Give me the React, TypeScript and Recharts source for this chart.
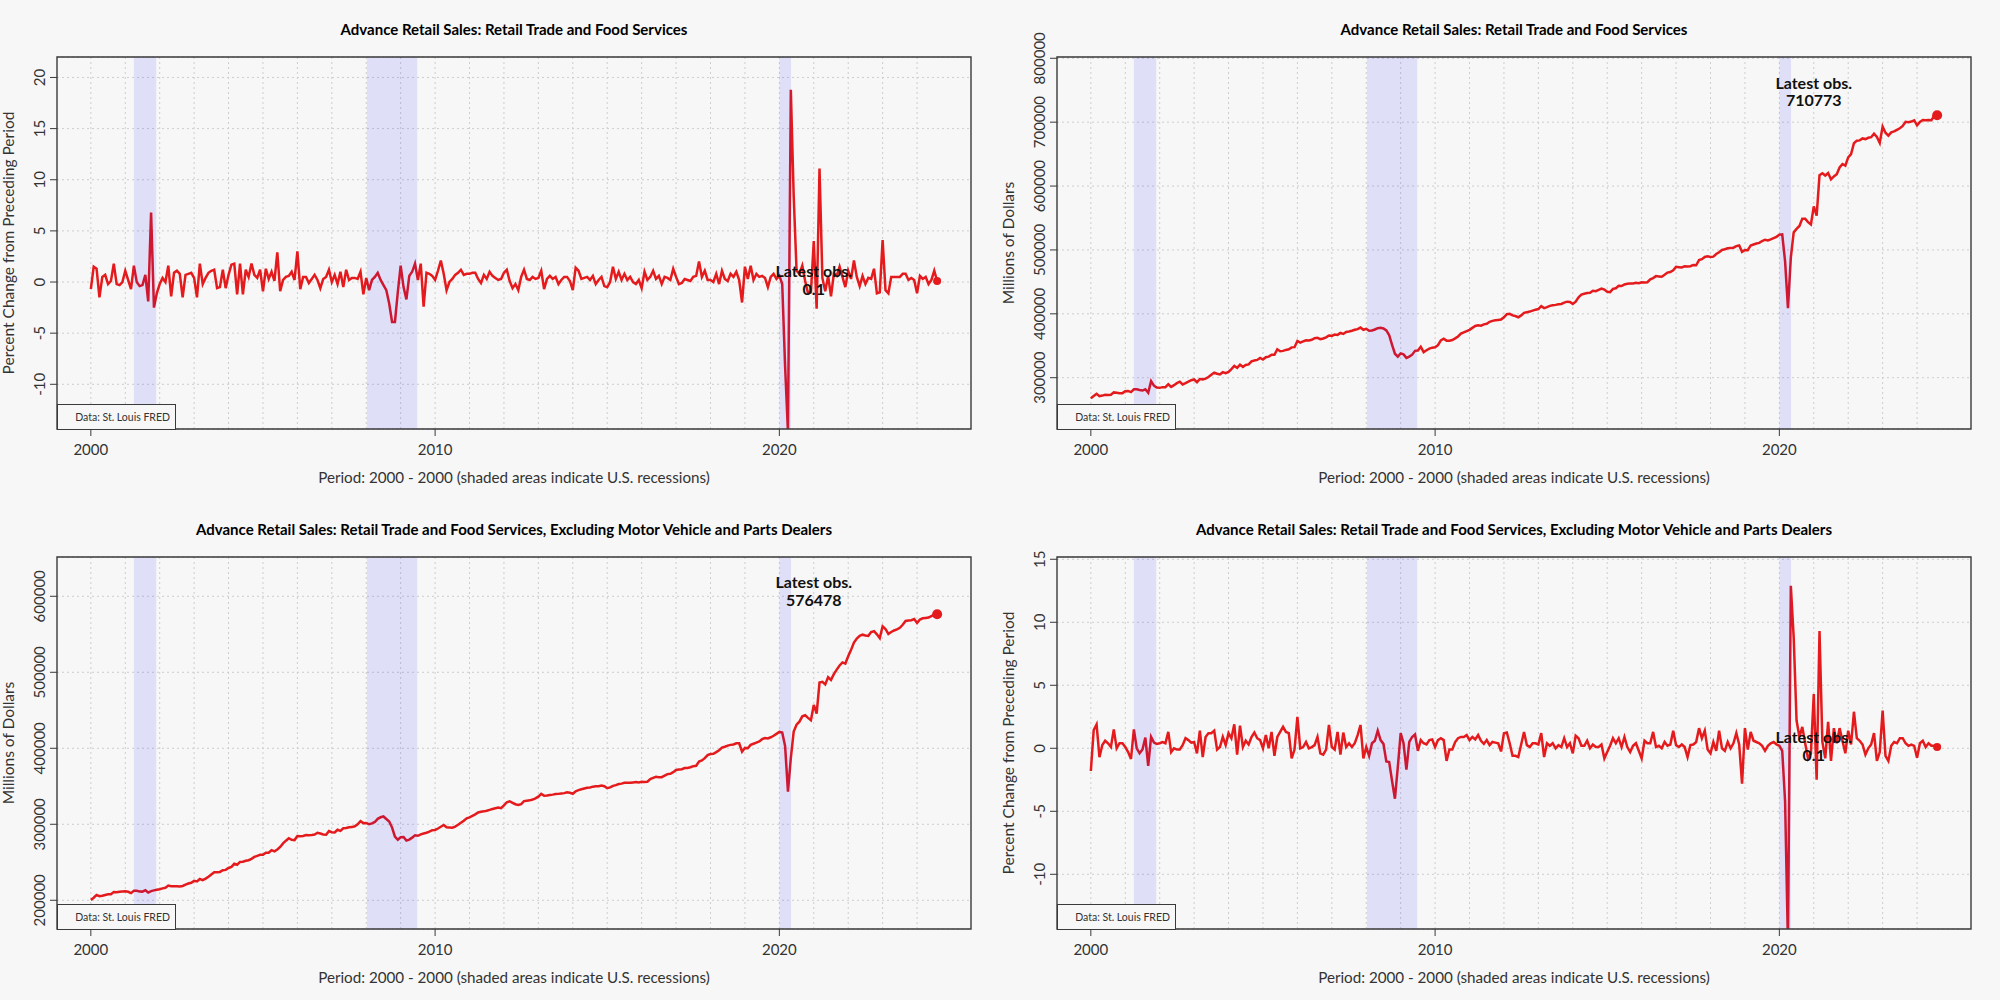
import React from 'react';
import {
  LineChart,
  Line,
  XAxis,
  YAxis,
  CartesianGrid,
  ReferenceArea,
  ReferenceLine,
  ReferenceDot,
} from 'recharts';

// ---------------- DATA (monthly, Jan 2000 - Aug 2024) ----------------
const START_YEAR = 2000;

// Advance Retail Sales: Retail Trade and Food Services, % change from preceding period
const totalPct = [
  -0.7, 1.5, 1.3, -1.5, 0.5, 0.7, -0.2, 0.1, 1.8, -0.2, -0.3, 0.0,
  1.1, 0.2, -0.7, 1.6, 0.0, -0.4, -0.3, 0.7, -1.9, 6.8, -2.5, -1.1,
  -0.2, 0.4, 0.0, 1.6, -1.4, 0.9, 1.1, 0.8, -1.5, 0.7, 0.8, 0.9,
  0.4, -1.5, 1.8, -0.2, 0.4, 0.9, 1.1, 1.2, -0.6, -0.5, 1.2, -0.6,
  0.7, 1.7, 1.8, -1.2, 1.8, -1.2, 1.2, 0.5, 1.8, 0.7, 0.4, 1.2,
  -0.9, 1.3, 0.3, 1.0, 0.1, 2.9, -0.9, 0.2, 0.5, 0.6, 1.0, 0.2,
  3.0, -0.7, 0.5, 0.5, -0.1, 0.3, 0.7, 0.2, -0.6, 0.3, 0.5, 1.2,
  0.0, 0.7, -0.2, 1.0, -0.5, 1.2, 0.2, 0.4, 0.4, 0.3, 1.0, -1.2,
  0.4, -0.8, 0.2, 0.5, 0.9, 0.2, -0.3, -0.8, -2.1, -3.9, -3.9, -1.0,
  1.6, -0.5, -1.7, 0.6, 1.0, 1.8, 0.2, 1.8, -2.4, 0.9, 0.8, 0.6,
  0.2, 1.1, 2.1, 0.8, -0.8, 0.0, 0.3, 0.7, 0.9, 1.2, 0.7, 0.8,
  0.8, 0.9, 0.9, 0.3, -0.1, 0.7, 0.3, 1.0, 0.6, 0.4, 0.2, 0.3,
  0.9, 1.2, 0.1, -0.6, -0.2, -0.8, 0.5, 1.2, 0.3, 0.2, 0.5, 0.3,
  0.4, 1.1, -0.7, 0.3, 0.6, 0.3, 0.5, -0.2, 0.2, 0.5, 0.5, 0.1,
  -0.8, 1.4, 1.1, 0.3, 0.4, 0.5, 0.2, 0.6, -0.2, 0.2, 0.5, -0.4,
  -0.5, 0.0, 1.5, 0.3, 1.0, 0.2, 0.8, 0.2, 0.5, 0.0, -0.2, 0.2,
  -0.6, 1.0, 0.2, 0.5, 1.1, 0.3, 0.6, -0.2, 0.5, 0.4, 0.2, 1.3,
  0.5, -0.2, -0.1, 0.3, 0.2, 0.1, 0.5, 0.6, 2.0, 0.5, 1.1, 0.2,
  0.2, 0.0, 0.8, -0.2, 1.1, 0.3, 0.1, 0.8, 0.5, 1.0, 0.2, -2.0,
  1.5, 0.3, 1.6, 0.2, 0.8, 0.5, 0.6, 0.4, -0.5, 0.5, 0.8, 0.3,
  0.6, -0.2, -8.2, -14.7, 18.8, 8.4, 1.1, 0.8, 1.6, 0.1, -1.1, -1.0,
  4.0, -2.6, 11.1, 0.4, -0.9, 0.6, -1.4, 0.8, 0.6, 1.5, 0.5, -0.5,
  1.1, 0.3, 2.1, 0.5, -0.4, 0.6, -0.2, 0.4, 0.3, 1.3, -1.1, -1.0,
  4.1, -0.8, -1.1, 0.5, 0.5, 0.5, 0.5, 0.8, 0.8, 0.2, 0.4, 0.2,
  -1.1, 0.6, 0.3, 0.5, -0.2, 0.2, 1.1, 0.1,
];

// Advance Retail Sales: Retail Trade and Food Services, millions of dollars
const totalLevel = [
  268000, 271500, 274800, 271000, 272000, 273200, 273000, 273200, 277000, 276500, 275800, 275800,
  278800, 279300, 277400, 281800, 281800, 280700, 279900, 281900, 276500, 294500, 287500, 284500,
  284100, 285200, 285200, 289800, 285700, 288300, 291500, 293800, 289400, 291400, 293700, 296000,
  297200, 293000, 298000, 297400, 298500, 301000, 304500, 308000, 306200, 305000, 308500, 307000,
  309000, 313500, 318500, 315500, 320500, 317000, 320000, 320800, 325500, 327000, 327800, 331000,
  328500, 332000, 333000, 336000, 335800, 344500, 341500, 342000, 343500, 344500, 347500, 347800,
  357500, 355000, 356800, 358600, 358200, 359300, 361800, 362500, 360300, 361400, 363200, 366000,
  365500, 367500, 367000, 370000, 368500, 371500, 372300, 373500, 375000, 376000, 378500, 375000,
  376500, 373500, 374000, 375500, 377500, 378000, 377000, 374000, 366500, 351500, 337500, 333000,
  338000, 336500, 331000, 333000, 336000, 342000, 342500, 348500, 340000, 343000, 345500, 347000,
  347500, 351000, 358500, 361000, 358000, 358000, 359000, 361500, 364500, 369000, 371000, 373000,
  375000, 378000, 381000, 382000, 381500, 383500, 384500, 387500, 389000, 390000, 390500, 391000,
  394500, 399500, 400000, 397500, 396500, 394500, 397500, 401500, 402500, 403500, 405000, 406500,
  407500, 412000, 409000, 410500, 412500, 413500, 414000, 415000, 415500, 417500, 419000, 418500,
  415500, 419000, 426000, 430000, 431500, 432500, 432800, 436000, 435500, 437500, 439500, 438000,
  434500, 434000, 439000, 440000, 444000, 443500, 446000, 447000, 447500, 447500, 448500, 448000,
  449500, 449000, 449500, 454000, 456000, 459000, 458500, 458000, 461000, 464500, 465500, 468000,
  473500, 473000, 472500, 474500, 474000, 474500, 476500, 476000, 484000, 485500, 489000, 490000,
  489000, 489500, 493500, 496500, 500000, 501000, 502500, 503000, 503500, 506000, 507000, 497000,
  500000, 499500, 507000, 508500, 510000, 511000, 514000, 516000, 515000, 516500, 518500, 520500,
  524000, 524500, 482000, 409000, 488000, 527500, 533000, 537500, 549000, 549000, 543500, 540000,
  568000, 553500, 617000, 620000, 616500, 620500, 610500, 615000, 618500, 629000, 634500, 632000,
  645000, 650000, 667000, 671000, 671500, 674500, 673500, 675500, 676500, 682000, 677000, 667500,
  693000, 683500, 679000, 684000, 685500, 688000, 690500, 694000, 700500, 700000, 701000, 703000,
  695000, 700500, 703500, 703000, 703500, 703000, 710000, 710773,
];

// Excluding Motor Vehicle and Parts Dealers, millions of dollars
const exAutoLevel = [
  200500, 203300, 207000, 205500, 206000, 207000, 207800, 208000, 210800, 210600, 211300, 211600,
  211800, 211200, 209400, 212500, 212500, 211600, 211400, 213200, 210200, 212100, 213000, 213800,
  214600, 215700, 216500, 219300, 218600, 218600, 218400, 218200, 218800, 220500, 222000, 223000,
  225500, 224800, 228000, 226500, 228500, 231000, 234000, 237000, 237000, 237300, 239500, 240000,
  242500, 244000, 248000, 246800, 250500, 250800, 252000, 252700, 254500, 257000, 258500, 259800,
  259800, 262500, 262500, 266000, 264400, 266800, 270200, 274800, 278400, 281700, 279500, 279200,
  284500, 284300, 284600, 285800, 285600, 286000, 286500, 288800, 287800, 286500, 286200, 291000,
  289500, 289200, 292800, 291400, 294800, 295000, 296000, 296300, 297300, 300000, 304000, 301500,
  301800, 300000, 301200, 303000, 307200, 309200, 310300, 307000, 303600, 295700, 283900, 279600,
  283000, 283300, 278500, 279900, 282400, 285500, 284900, 286800, 287900, 288800, 290200, 292200,
  292500, 294400, 296800, 299000, 296000, 295700, 295400, 296900, 299300, 302000, 304700, 307900,
  309000, 311000, 313000, 315500, 316500, 317000, 317800, 319000, 320000, 321000, 322000, 321200,
  325000, 329000, 330300, 328300, 326400, 325500, 326500, 330500, 331000, 331500, 332500, 334000,
  336300, 340000, 337600, 338000, 338500, 339000, 339800, 340000, 340500, 341000, 342000, 341500,
  340200, 343500, 345000, 346000, 347000, 348000, 348500, 349500, 350000, 350000, 351000, 350000,
  347500, 348500, 350500, 351500, 353000, 353500, 354500, 354800, 354500, 355000, 355500, 355000,
  356000, 355500, 356000, 359500, 361000, 362500, 362000, 362000, 364000, 366000, 366500, 368500,
  371500, 372000, 372500, 374000, 374000, 375000, 376500, 377000, 382500, 384000, 387000, 391000,
  392500, 392800, 395000, 397500, 401000, 402000, 403500, 404500, 405000, 406500, 406500, 395500,
  400500, 400000, 404500, 406000, 407500, 409000, 412000, 413500, 413000, 414500, 416500, 419000,
  421500, 420800, 403000, 343000, 387000, 422000, 431000, 435000, 442000, 443500, 440000, 437000,
  457000, 445500, 486500, 487500, 484000, 493500, 490000, 497500, 503500, 509000, 513000, 511500,
  521000, 529500, 539000, 544500, 548000, 549500, 548500, 548000, 553000, 554000, 550000, 545000,
  560500, 557000, 550500, 553000, 555000, 556500, 558500, 562500, 567500, 568000, 568500, 570000,
  565000, 569500, 571000, 571500, 572000, 574000, 575900, 576478,
];

// Excluding Motor Vehicle and Parts Dealers, % change from preceding period
const exAutoPct = [
  -1.8, 1.45, 1.9, -0.7, 0.26, 0.6, 0.4, 0.1, 1.5, 0.0, 0.4, 0.4,
  0.1, -0.3, -0.85, 1.5, 0.0, -0.4, -0.1, 0.85, -1.4, 0.9, 0.45, 0.35,
  0.4, 0.5, 0.4, 1.3, -0.3, 0.0, -0.1, -0.1, 0.25, 0.8, 0.65, 0.45,
  0.5, -0.4, 1.4, -0.7, 0.9, 1.2, 1.2, 1.4, -0.1, 0.1, 0.9, 0.25,
  1.2, 0.8, 1.9, -0.5, 1.8, 0.1, 0.6, 0.3, 0.9, 1.25, 0.8, 0.65,
  0.0, 1.05, 0.0, 1.3, -0.6, 0.9, 1.3, 1.7, 1.3, 1.2, -0.8, -0.1,
  2.5, 0.0, 0.1, 0.5, 0.0, 0.1, 0.25, 0.9, -0.4, -0.5, -0.1, 1.85,
  0.1, -0.1, 1.3, -0.5, 1.25, 0.1, 0.4, 0.1, 0.4, 1.05, 1.85, -0.8,
  0.1, -0.6, 0.4, 0.6, 1.4, 0.65, 0.35, -1.05, -1.1, -2.6, -4.0, -1.5,
  1.2, 0.4, -1.7, 0.5, 0.9, 1.1, -0.2, 0.65, 0.4, 0.3, 0.65, 0.7,
  0.1, 0.65, 0.8, 0.65, -1.0, -0.1, -0.1, 0.5, 0.8, 0.9, 0.9, 1.05,
  0.65, 0.9, 0.7, 1.05, 0.6, 0.35, 0.65, 0.25, 0.5, 0.45, 0.4, -0.25,
  1.2, 1.25, 0.4, -0.6, -0.6, -0.7, 0.3, 1.3, 0.25, 0.1, 0.4, 0.4,
  0.3, 1.2, -0.7, 0.4, 0.2, 0.4, 0.0, 0.25, 0.1, 0.8, 0.1, 0.4,
  -0.4, 1.0, 0.8, 0.2, 0.2, 0.6, 0.0, 0.3, 0.1, 0.1, 0.3, -0.8,
  -0.3, 0.2, 0.8, 0.4, 0.8, 0.1, 0.9, 0.1, -0.3, 0.2, 0.4, -0.2,
  -0.8, 0.6, 0.4, 0.4, 1.3, 0.1, 0.2, 0.0, 0.5, 0.2, 0.3, 1.4,
  0.25, 0.1, 0.3, 0.1, -0.7, 0.25, 0.3, 0.5, 1.6, 0.8, 1.4, -0.1,
  -0.4, 0.5, -0.2, 1.4, 0.0, -0.2, 0.5, 0.0, 0.4, 1.2, 0.3, -2.8,
  1.6, -0.1, 1.3, 0.6, 0.5, 0.4, 0.2, -0.2, 0.2, 0.4, 0.5, 0.3,
  0.2, -0.2, -4.2, -15.6, 12.9, 8.8, 2.2, 0.9, 1.7, 0.4, -0.8, -0.4,
  4.3, -2.5, 9.3, 0.5, -0.8, 2.1, -1.0, 1.6, 0.4, 1.6, 0.6, -0.4,
  1.4, 0.3, 2.9, 0.8, 0.6, 0.3, -0.5, 0.0, 0.3, 1.2, -1.0, -0.3,
  3.0, -0.6, -1.0, 0.2, 0.5, 0.4, 0.8, 0.8, 0.4, 0.2, 0.3, 0.2,
  -0.75, 0.4, 0.6, 0.1, 0.4, 0.2, 0.2, 0.1,
];

const latestLabels = ['0.1', '710773', '576478', '0.1'];

const xTicks = [2000, 2010, 2020];
const gridYears = [
  2000, 2001, 2002, 2003, 2004, 2005, 2006, 2007, 2008, 2009, 2010, 2011, 2012,
  2013, 2014, 2015, 2016, 2017, 2018, 2019, 2020, 2021, 2022, 2023, 2024,
];
const recessions = [
  [2001.25, 2001.9],
  [2008.02, 2009.48],
  [2020.0, 2020.34],
];

const pctTicksA = [-10, -5, 0, 5, 10, 15, 20];
const levelTicksA = [300000, 400000, 500000, 600000, 700000, 800000];
const levelTicksB = [200000, 300000, 400000, 500000, 600000];
const pctTicksB = [-10, -5, 0, 5, 10, 15];

const TITLE_A = 'Advance Retail Sales: Retail Trade and Food Services';
const TITLE_B =
  'Advance Retail Sales: Retail Trade and Food Services, Excluding Motor Vehicle and Parts Dealers';
const PCT_LABEL = 'Percent Change from Preceding Period';
const LEVEL_LABEL = 'Millions of Dollars';
const X_LABEL = 'Period: 2000 - 2000 (shaded areas indicate U.S. recessions)';

// ---------------- STYLE ----------------
const BG = '#f7f7f7';
const RED = '#e41a1c';
const GRID = '#cdcdcd';
const FRAME = '#3a3a3a';
const FONT = 'Lato, "Open Sans", sans-serif';
const X_DOMAIN: [number, number] = [1999.017, 2025.567];
const LABEL_X = 2021.0;
const MARGIN = { top: 57, right: 29, bottom: 41, left: 7 };
const Y_W = 50;
const X_H = 30;

const dates = totalPct.map((_, i) => START_YEAR + i / 12);

const panels = [
  {
    left: 0, top: 0, title: TITLE_A, yLabel: PCT_LABEL, values: totalPct,
    domain: [-14.37, 22.0] as [number, number], ticks: pctTicksA, latest: latestLabels[0], dotR: 4,
  },
  {
    left: 1000, top: 0, title: TITLE_A, yLabel: LEVEL_LABEL, values: totalLevel,
    domain: [219700, 802000] as [number, number], ticks: levelTicksA, latest: latestLabels[1], dotR: 5,
  },
  {
    left: 0, top: 500, title: TITLE_B, yLabel: LEVEL_LABEL, values: exAutoLevel,
    domain: [162200, 651700] as [number, number], ticks: levelTicksB, latest: latestLabels[2], dotR: 5,
  },
  {
    left: 1000, top: 500, title: TITLE_B, yLabel: PCT_LABEL, values: exAutoPct,
    domain: [-14.34, 15.18] as [number, number], ticks: pctTicksB, latest: latestLabels[3], dotR: 4,
  },
];

const YTick = (props: any) => {
  const { x, y, payload } = props;
  return (
    <text
      x={x}
      y={y}
      transform={`rotate(-90 ${x} ${y})`}
      textAnchor="middle"
      fontSize={15}
      fontFamily={FONT}
      fill="#333"
    >
      {payload.value}
    </text>
  );
};

const makeLatestLabel = (text: string) => (props: any) => {
  const vb = props.viewBox || {};
  const cx = (vb.x ?? 0) + (vb.width ?? 0) / 2;
  const cy = (vb.y ?? 0) + (vb.height ?? 0) / 2;
  return (
    <text
      x={cx}
      y={cy}
      textAnchor="middle"
      fontFamily={FONT}
      fontWeight="bold"
      fontSize={16}
      fill="#111"
    >
      <tspan x={cx} dy="-0.25em">Latest obs.</tspan>
      <tspan x={cx} dy="1.1em">{text}</tspan>
    </text>
  );
};

function Panel({ cfg }: { cfg: (typeof panels)[number] }) {
  const data = dates.map((x, i) => ({ x, v: cfg.values[i] }));
  const last = data[data.length - 1];
  const labelY = Number(last.v) * 1.05;
  const hiddenX = (
    <XAxis
      type="number"
      dataKey="x"
      domain={X_DOMAIN}
      allowDataOverflow
      height={X_H}
      axisLine={false}
      tick={false}
      tickLine={false}
    />
  );
  const hiddenY = (
    <YAxis
      type="number"
      domain={cfg.domain}
      allowDataOverflow
      width={Y_W}
      axisLine={false}
      tick={false}
      tickLine={false}
    />
  );
  return (
    <div
      style={{
        position: 'absolute',
        left: cfg.left,
        top: cfg.top,
        width: 1000,
        height: 500,
      }}
    >
      <div
        style={{
          position: 'absolute',
          left: 57,
          width: 914,
          top: 19,
          textAlign: 'center',
          fontFamily: FONT,
          fontWeight: 'bold',
          fontSize: 15,
          lineHeight: '20px',
          color: '#000',
          whiteSpace: 'nowrap',
        }}
      >
        {cfg.title}
      </div>
      {/* base chart: grid, axes, series */}
      <div style={{ position: 'absolute', left: 0, top: 0 }}>
        <LineChart width={1000} height={500} data={data} margin={MARGIN}>
          <CartesianGrid vertical={false} stroke={GRID} strokeDasharray="2 3" />
          {gridYears.map((yr) => (
            <ReferenceLine
              key={yr}
              x={yr}
              stroke={GRID}
              strokeDasharray="2 3"
              strokeWidth={1}
            />
          ))}
          <XAxis
            type="number"
            dataKey="x"
            domain={X_DOMAIN}
            ticks={xTicks}
            allowDataOverflow
            height={X_H}
            axisLine={false}
            tickSize={7}
            tickMargin={8}
            tickLine={{ stroke: FRAME }}
            tick={{ fill: '#333', fontSize: 15, fontFamily: FONT }}
            interval={0}
          />
          <YAxis
            type="number"
            domain={cfg.domain}
            ticks={cfg.ticks}
            allowDataOverflow
            width={Y_W}
            axisLine={false}
            tickSize={7}
            tickMargin={5}
            tickLine={{ stroke: FRAME }}
            tick={<YTick />}
            interval={0}
          />
          <Line
            type="linear"
            dataKey="v"
            stroke={RED}
            strokeWidth={2.5}
            dot={false}
            isAnimationActive={false}
          />
        </LineChart>
      </div>
      {/* overlay chart: recession shading, frame, latest observation */}
      <div style={{ position: 'absolute', left: 0, top: 0, pointerEvents: 'none' }}>
        <LineChart width={1000} height={500} data={data} margin={MARGIN}>
          {hiddenX}
          {hiddenY}
          {recessions.map(([a, b]) => (
            <ReferenceArea
              key={a}
              x1={a}
              x2={b}
              y1={cfg.domain[0]}
              y2={cfg.domain[1]}
              fill="#0000ff"
              fillOpacity={0.095}
              stroke="none"
            />
          ))}
          <ReferenceArea
            x1={X_DOMAIN[0]}
            x2={X_DOMAIN[1]}
            y1={cfg.domain[0]}
            y2={cfg.domain[1]}
            fill="none"
            stroke={FRAME}
            strokeWidth={1.4}
          />
          <ReferenceDot
            x={last.x}
            y={last.v}
            r={cfg.dotR}
            fill={RED}
            stroke="none"
          />
          <ReferenceDot
            x={LABEL_X}
            y={labelY}
            r={1}
            fill="none"
            stroke="none"
            label={makeLatestLabel(cfg.latest)}
          />
        </LineChart>
      </div>
      <div
        style={{
          position: 'absolute',
          left: 57,
          top: 404,
          width: 119,
          height: 26,
          boxSizing: 'border-box',
          border: `1px solid ${FRAME}`,
          background: BG,
          fontFamily: FONT,
          fontSize: 10.5,
          color: '#333',
          textAlign: 'right',
          paddingRight: 5,
          lineHeight: '24px',
          whiteSpace: 'nowrap',
        }}
      >
        Data: St. Louis FRED
      </div>
      <div
        style={{
          position: 'absolute',
          left: 8 - 250,
          top: 243 - 10,
          width: 500,
          height: 20,
          lineHeight: '20px',
          textAlign: 'center',
          transform: 'rotate(-90deg)',
          transformOrigin: '50% 50%',
          fontFamily: FONT,
          fontSize: 15.5,
          color: '#333',
          whiteSpace: 'nowrap',
        }}
      >
        {cfg.yLabel}
      </div>
      <div
        style={{
          position: 'absolute',
          left: 57,
          width: 914,
          top: 467,
          lineHeight: '20px',
          textAlign: 'center',
          fontFamily: FONT,
          fontSize: 15.2,
          color: '#333',
          whiteSpace: 'nowrap',
        }}
      >
        {X_LABEL}
      </div>
    </div>
  );
}

export default function App() {
  return (
    <div
      style={{
        position: 'absolute',
        left: 0,
        top: 0,
        width: 2000,
        height: 1000,
        background: BG,
        overflow: 'hidden',
      }}
    >
      {panels.map((p, i) => (
        <Panel key={i} cfg={p} />
      ))}
    </div>
  );
}
